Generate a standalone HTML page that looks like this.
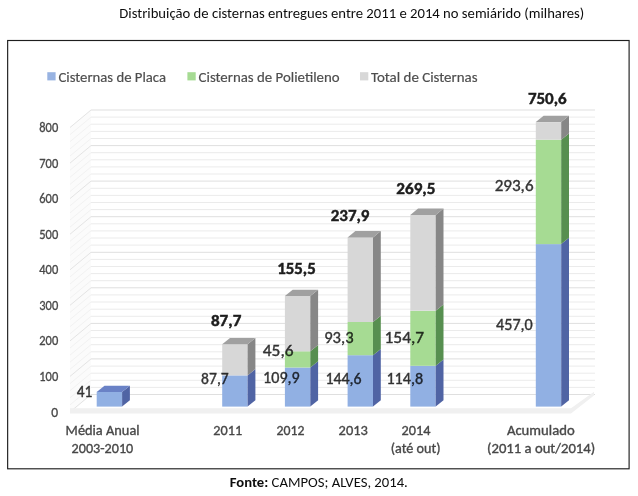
<!DOCTYPE html><html><head><meta charset="utf-8"><style>html,body{margin:0;padding:0;background:#fff}body{width:638px;height:496px;overflow:hidden;position:relative}svg{position:absolute;left:0;top:0;filter:blur(.3px)}text{font-family:Carlito,"Liberation Sans",Arial,sans-serif;paint-order:stroke}.ti{font-size:14.6px;fill:#0d0d0d}.ax{font-size:13.5px;fill:#474747;stroke:#474747;stroke-width:.3px}.lg{font-size:15.2px;fill:#4d4d4d;stroke:#4d4d4d;stroke-width:.2px}.ct{font-size:14.6px;fill:#474747;stroke:#474747;stroke-width:.35px}.bt{font-size:16.8px;font-weight:bold;fill:#1c1c1c;stroke:#1c1c1c;stroke-width:.45px}.il{font-size:16.2px;fill:#000;stroke:#000;stroke-width:.4px}</style></head><body>
<svg width="638" height="496" viewBox="0 0 638 496">
<rect x="0" y="0" width="638" height="496" fill="#fff"/>
<text x="119.3" y="17.6" class="ti" textLength="465" lengthAdjust="spacingAndGlyphs">Distribuição de cisternas entregues entre 2011 e 2014 no semiárido (milhares)</text>
<rect x="7.65" y="40.5" width="621.45" height="428.3" fill="none" stroke="#1e1e1e" stroke-width="1.15"/>
<polygon points="70.0,413.5 70.0,127.51999999999998 91.0,110.01999999999998 91.0,394.5" fill="#fbfbfb"/>
<g fill="none" stroke-width="1"><path d="M70.0 412.0L91.0 394.5" stroke="#e4e4e4"/><path d="M91.0 394.5H595.0" stroke="#dfdfdf"/><path d="M70.0 404.9L91.0 387.4" stroke="#f2f2f2"/><path d="M91.0 387.4H595.0" stroke="#ebebeb"/><path d="M70.0 397.8L91.0 380.3" stroke="#f2f2f2"/><path d="M91.0 380.3H595.0" stroke="#ebebeb"/><path d="M70.0 390.7L91.0 373.2" stroke="#f2f2f2"/><path d="M91.0 373.2H595.0" stroke="#ebebeb"/><path d="M70.0 383.6L91.0 366.1" stroke="#f2f2f2"/><path d="M91.0 366.1H595.0" stroke="#ebebeb"/><path d="M70.0 376.4L91.0 358.9" stroke="#e4e4e4"/><path d="M91.0 358.9H595.0" stroke="#dfdfdf"/><path d="M70.0 369.3L91.0 351.8" stroke="#f2f2f2"/><path d="M91.0 351.8H595.0" stroke="#ebebeb"/><path d="M70.0 362.2L91.0 344.7" stroke="#f2f2f2"/><path d="M91.0 344.7H595.0" stroke="#ebebeb"/><path d="M70.0 355.1L91.0 337.6" stroke="#f2f2f2"/><path d="M91.0 337.6H595.0" stroke="#ebebeb"/><path d="M70.0 348.0L91.0 330.5" stroke="#f2f2f2"/><path d="M91.0 330.5H595.0" stroke="#ebebeb"/><path d="M70.0 340.9L91.0 323.4" stroke="#e4e4e4"/><path d="M91.0 323.4H595.0" stroke="#dfdfdf"/><path d="M70.0 333.8L91.0 316.3" stroke="#f2f2f2"/><path d="M91.0 316.3H595.0" stroke="#ebebeb"/><path d="M70.0 326.7L91.0 309.2" stroke="#f2f2f2"/><path d="M91.0 309.2H595.0" stroke="#ebebeb"/><path d="M70.0 319.5L91.0 302.0" stroke="#f2f2f2"/><path d="M91.0 302.0H595.0" stroke="#ebebeb"/><path d="M70.0 312.4L91.0 294.9" stroke="#f2f2f2"/><path d="M91.0 294.9H595.0" stroke="#ebebeb"/><path d="M70.0 305.3L91.0 287.8" stroke="#e4e4e4"/><path d="M91.0 287.8H595.0" stroke="#dfdfdf"/><path d="M70.0 298.2L91.0 280.7" stroke="#f2f2f2"/><path d="M91.0 280.7H595.0" stroke="#ebebeb"/><path d="M70.0 291.1L91.0 273.6" stroke="#f2f2f2"/><path d="M91.0 273.6H595.0" stroke="#ebebeb"/><path d="M70.0 284.0L91.0 266.5" stroke="#f2f2f2"/><path d="M91.0 266.5H595.0" stroke="#ebebeb"/><path d="M70.0 276.9L91.0 259.4" stroke="#f2f2f2"/><path d="M91.0 259.4H595.0" stroke="#ebebeb"/><path d="M70.0 269.8L91.0 252.3" stroke="#e4e4e4"/><path d="M91.0 252.3H595.0" stroke="#dfdfdf"/><path d="M70.0 262.6L91.0 245.1" stroke="#f2f2f2"/><path d="M91.0 245.1H595.0" stroke="#ebebeb"/><path d="M70.0 255.5L91.0 238.0" stroke="#f2f2f2"/><path d="M91.0 238.0H595.0" stroke="#ebebeb"/><path d="M70.0 248.4L91.0 230.9" stroke="#f2f2f2"/><path d="M91.0 230.9H595.0" stroke="#ebebeb"/><path d="M70.0 241.3L91.0 223.8" stroke="#f2f2f2"/><path d="M91.0 223.8H595.0" stroke="#ebebeb"/><path d="M70.0 234.2L91.0 216.7" stroke="#e4e4e4"/><path d="M91.0 216.7H595.0" stroke="#dfdfdf"/><path d="M70.0 227.1L91.0 209.6" stroke="#f2f2f2"/><path d="M91.0 209.6H595.0" stroke="#ebebeb"/><path d="M70.0 220.0L91.0 202.5" stroke="#f2f2f2"/><path d="M91.0 202.5H595.0" stroke="#ebebeb"/><path d="M70.0 212.9L91.0 195.4" stroke="#f2f2f2"/><path d="M91.0 195.4H595.0" stroke="#ebebeb"/><path d="M70.0 205.8L91.0 188.3" stroke="#f2f2f2"/><path d="M91.0 188.3H595.0" stroke="#ebebeb"/><path d="M70.0 198.6L91.0 181.1" stroke="#e4e4e4"/><path d="M91.0 181.1H595.0" stroke="#dfdfdf"/><path d="M70.0 191.5L91.0 174.0" stroke="#f2f2f2"/><path d="M91.0 174.0H595.0" stroke="#ebebeb"/><path d="M70.0 184.4L91.0 166.9" stroke="#f2f2f2"/><path d="M91.0 166.9H595.0" stroke="#ebebeb"/><path d="M70.0 177.3L91.0 159.8" stroke="#f2f2f2"/><path d="M91.0 159.8H595.0" stroke="#ebebeb"/><path d="M70.0 170.2L91.0 152.7" stroke="#f2f2f2"/><path d="M91.0 152.7H595.0" stroke="#ebebeb"/><path d="M70.0 163.1L91.0 145.6" stroke="#e4e4e4"/><path d="M91.0 145.6H595.0" stroke="#dfdfdf"/><path d="M70.0 156.0L91.0 138.5" stroke="#f2f2f2"/><path d="M91.0 138.5H595.0" stroke="#ebebeb"/><path d="M70.0 148.9L91.0 131.4" stroke="#f2f2f2"/><path d="M91.0 131.4H595.0" stroke="#ebebeb"/><path d="M70.0 141.7L91.0 124.2" stroke="#f2f2f2"/><path d="M91.0 124.2H595.0" stroke="#ebebeb"/><path d="M70.0 134.6L91.0 117.1" stroke="#f2f2f2"/><path d="M91.0 117.1H595.0" stroke="#ebebeb"/><path d="M70.0 127.5L91.0 110.0" stroke="#e4e4e4"/><path d="M91.0 110.0H595.0" stroke="#dfdfdf"/></g>
<polygon points="70.0,408.3 571,408.3 594.0,391.8 594.0,395.5 571,413.6 70.0,413.6" fill="#f0f0f0"/>
<rect x="96.7" y="392.0" width="25.4" height="14.6" fill="#91b0e3"/><polygon points="122.1,392.0 129.9,385.7 129.9,400.3 122.1,406.6" fill="#5064a4"/><polygon points="96.7,392.0 104.5,385.7 129.9,385.7 122.1,392.0" fill="#6a82c6"/>
<rect x="222.2" y="375.4" width="25.4" height="31.2" fill="#91b0e3"/><polygon points="247.6,375.4 255.4,369.1 255.4,400.3 247.6,406.6" fill="#5064a4"/>
<rect x="222.2" y="344.2" width="25.4" height="31.2" fill="#d7d7d7"/><polygon points="247.6,344.2 255.4,337.9 255.4,369.1 247.6,375.4" fill="#878787"/><polygon points="222.2,344.2 230.0,337.9 255.4,337.9 247.6,344.2" fill="#a0a0a0"/>
<rect x="284.9" y="367.5" width="25.4" height="39.1" fill="#91b0e3"/><polygon points="310.3,367.5 318.1,361.2 318.1,400.3 310.3,406.6" fill="#5064a4"/>
<rect x="284.9" y="351.3" width="25.4" height="16.2" fill="#a6db93"/><polygon points="310.3,351.3 318.1,345.0 318.1,361.2 310.3,367.5" fill="#578f50"/>
<rect x="284.9" y="296.0" width="25.4" height="55.3" fill="#d7d7d7"/><polygon points="310.3,296.0 318.1,289.7 318.1,345.0 310.3,351.3" fill="#878787"/><polygon points="284.9,296.0 292.7,289.7 318.1,289.7 310.3,296.0" fill="#a0a0a0"/>
<rect x="347.6" y="355.2" width="25.4" height="51.4" fill="#91b0e3"/><polygon points="373.0,355.2 380.8,348.9 380.8,400.3 373.0,406.6" fill="#5064a4"/>
<rect x="347.6" y="322.0" width="25.4" height="33.2" fill="#a6db93"/><polygon points="373.0,322.0 380.8,315.7 380.8,348.9 373.0,355.2" fill="#578f50"/>
<rect x="347.6" y="237.4" width="25.4" height="84.6" fill="#d7d7d7"/><polygon points="373.0,237.4 380.8,231.1 380.8,315.7 373.0,322.0" fill="#878787"/><polygon points="347.6,237.4 355.4,231.1 380.8,231.1 373.0,237.4" fill="#a0a0a0"/>
<rect x="410.3" y="365.8" width="25.4" height="40.8" fill="#91b0e3"/><polygon points="435.7,365.8 443.5,359.5 443.5,400.3 435.7,406.6" fill="#5064a4"/>
<rect x="410.3" y="310.8" width="25.4" height="55.0" fill="#a6db93"/><polygon points="435.7,310.8 443.5,304.5 443.5,359.5 435.7,365.8" fill="#578f50"/>
<rect x="410.3" y="214.9" width="25.4" height="95.8" fill="#d7d7d7"/><polygon points="435.7,214.9 443.5,208.6 443.5,304.5 435.7,310.8" fill="#878787"/><polygon points="410.3,214.9 418.1,208.6 443.5,208.6 435.7,214.9" fill="#a0a0a0"/>
<rect x="535.8" y="244.1" width="25.4" height="162.5" fill="#91b0e3"/><polygon points="561.2,244.1 569.0,237.8 569.0,400.3 561.2,406.6" fill="#5064a4"/>
<rect x="535.8" y="139.7" width="25.4" height="104.4" fill="#a6db93"/><polygon points="561.2,139.7 569.0,133.4 569.0,237.8 561.2,244.1" fill="#578f50"/>
<rect x="535.8" y="122.1" width="25.4" height="17.6" fill="#d7d7d7"/><polygon points="561.2,122.1 569.0,115.8 569.0,133.4 561.2,139.7" fill="#878787"/><polygon points="535.8,122.1 543.6,115.8 569.0,115.8 561.2,122.1" fill="#a0a0a0"/>
<text x="58.2" y="416.5" class="ax" text-anchor="end">0</text>
<text x="58.2" y="380.9" class="ax" text-anchor="end" textLength="18.9" lengthAdjust="spacingAndGlyphs">100</text>
<text x="58.2" y="345.4" class="ax" text-anchor="end" textLength="18.9" lengthAdjust="spacingAndGlyphs">200</text>
<text x="58.2" y="309.8" class="ax" text-anchor="end" textLength="18.9" lengthAdjust="spacingAndGlyphs">300</text>
<text x="58.2" y="274.3" class="ax" text-anchor="end" textLength="18.9" lengthAdjust="spacingAndGlyphs">400</text>
<text x="58.2" y="238.7" class="ax" text-anchor="end" textLength="18.9" lengthAdjust="spacingAndGlyphs">500</text>
<text x="58.2" y="203.1" class="ax" text-anchor="end" textLength="18.9" lengthAdjust="spacingAndGlyphs">600</text>
<text x="58.2" y="167.6" class="ax" text-anchor="end" textLength="18.9" lengthAdjust="spacingAndGlyphs">700</text>
<text x="58.2" y="132.0" class="ax" text-anchor="end" textLength="18.9" lengthAdjust="spacingAndGlyphs">800</text>
<rect x="47.3" y="72.2" width="8.3" height="8.2" fill="#98b3e2"/>
<text x="58.5" y="82" class="lg" textLength="107.5" lengthAdjust="spacingAndGlyphs">Cisternas de Placa</text>
<rect x="187.4" y="72.2" width="8.3" height="8.2" fill="#a6db93"/>
<text x="198.6" y="82" class="lg" textLength="141" lengthAdjust="spacingAndGlyphs">Cisternas de Polietileno</text>
<rect x="360" y="72.2" width="8.3" height="8.2" fill="#d8d8d8"/>
<text x="371" y="82" class="lg" textLength="106.5" lengthAdjust="spacingAndGlyphs">Total de Cisternas</text>
<text x="102.6" y="435.4" class="ct" text-anchor="middle" textLength="74" lengthAdjust="spacingAndGlyphs">Média Anual</text>
<text x="102.45" y="452.8" class="ct" text-anchor="middle" textLength="61.7" lengthAdjust="spacingAndGlyphs">2003-2010</text>
<text x="227.7" y="435.4" class="ct" text-anchor="middle" textLength="28.8" lengthAdjust="spacingAndGlyphs">2011</text>
<text x="290.45" y="435.4" class="ct" text-anchor="middle" textLength="27.9" lengthAdjust="spacingAndGlyphs">2012</text>
<text x="353.25" y="435.4" class="ct" text-anchor="middle" textLength="29.3" lengthAdjust="spacingAndGlyphs">2013</text>
<text x="416.05" y="435.4" class="ct" text-anchor="middle" textLength="28.9" lengthAdjust="spacingAndGlyphs">2014</text>
<text x="415.7" y="452.8" class="ct" text-anchor="middle" textLength="49.8" lengthAdjust="spacingAndGlyphs">(até out)</text>
<text x="540.8" y="435.4" class="ct" text-anchor="middle" textLength="67.8" lengthAdjust="spacingAndGlyphs">Acumulado</text>
<text x="541.1" y="452.8" class="ct" text-anchor="middle" textLength="108.2" lengthAdjust="spacingAndGlyphs">(2011 a out/2014)</text>
<text x="226.1" y="326.4" class="bt" text-anchor="middle" textLength="30.4" lengthAdjust="spacingAndGlyphs">87,7</text>
<text x="296.5" y="274.3" class="bt" text-anchor="middle" textLength="38.6" lengthAdjust="spacingAndGlyphs">155,5</text>
<text x="350.1" y="221.3" class="bt" text-anchor="middle" textLength="38.8" lengthAdjust="spacingAndGlyphs">237,9</text>
<text x="415.9" y="193.8" class="bt" text-anchor="middle" textLength="39.2" lengthAdjust="spacingAndGlyphs">269,5</text>
<text x="547.3" y="103.8" class="bt" text-anchor="middle" textLength="38.8" lengthAdjust="spacingAndGlyphs">750,6</text>
<g opacity=".8">
<text x="84.5" y="397.2" class="il" text-anchor="middle" textLength="15.6" lengthAdjust="spacingAndGlyphs">41</text>
<text x="214.9" y="383.6" class="il" text-anchor="middle" textLength="27.6" lengthAdjust="spacingAndGlyphs">87,7</text>
<text x="278.2" y="356.1" class="il" text-anchor="middle" textLength="30.8" lengthAdjust="spacingAndGlyphs">45,6</text>
<text x="281.4" y="383.4" class="il" text-anchor="middle" textLength="36.6" lengthAdjust="spacingAndGlyphs">109,9</text>
<text x="338.9" y="343.4" class="il" text-anchor="middle" textLength="29.4" lengthAdjust="spacingAndGlyphs">93,3</text>
<text x="343.5" y="383.7" class="il" text-anchor="middle" textLength="36.2" lengthAdjust="spacingAndGlyphs">144,6</text>
<text x="404.3" y="342.9" class="il" text-anchor="middle" textLength="39.6" lengthAdjust="spacingAndGlyphs">154,7</text>
<text x="404.8" y="384.1" class="il" text-anchor="middle" textLength="36.8" lengthAdjust="spacingAndGlyphs">114,8</text>
<text x="514.1" y="191.3" class="il" text-anchor="middle" textLength="38.9" lengthAdjust="spacingAndGlyphs">293,6</text>
<text x="514.4" y="330.1" class="il" text-anchor="middle" textLength="36.7" lengthAdjust="spacingAndGlyphs">457,0</text>
</g>
<text x="229.8" y="486.9" class="ti" textLength="178" lengthAdjust="spacingAndGlyphs"><tspan font-weight="bold">Fonte:</tspan> CAMPOS; ALVES, 2014.</text>
</svg></body></html>
